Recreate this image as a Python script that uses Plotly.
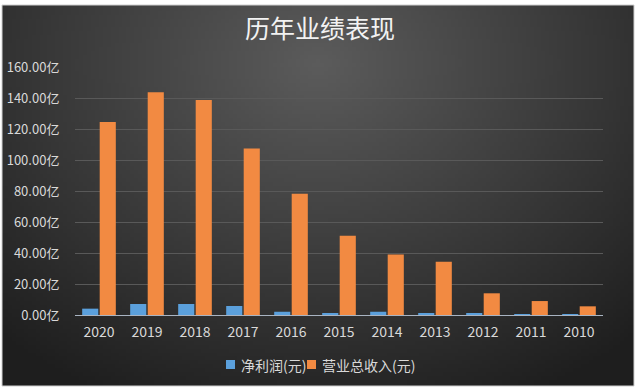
import base64, struct, zlib
import plotly.graph_objects as go

years = ["2020", "2019", "2018", "2017", "2016", "2015", "2014", "2013", "2012", "2011", "2010"]
net_profit = [4.1, 7.1, 7.1, 5.8, 2.1, 1.0, 2.1, 1.0, 0.9, 0.6, 0.3]
revenue = [124.5, 143.7, 138.7, 107.5, 78.3, 51.2, 39.1, 34.4, 14.0, 9.0, 5.6]
series_names = ["净利润(元)", "营业总收入(元)"]
series_colors = ["#5ba0dc", "#f28a42"]
title_text = "历年业绩表现"

# ---- background radial gradient image (style only) ----
W, H = 160, 96
rows = []
for j in range(H):
    row = bytearray([0])
    for i in range(W):
        dx = (i / (W - 1) - 0.5) / 0.75
        dy = (j / (H - 1) - 0.15) / 1.0
        d = min(1.0, (dx * dx + dy * dy) ** 0.5)
        v = int(92 - (92 - 30) * d)
        row += bytes([v, v, v])
    rows.append(bytes(row))
raw = b"".join(rows)

def chunk(t, data):
    c = struct.pack(">I", len(data)) + t + data
    return c + struct.pack(">I", zlib.crc32(t + data) & 0xffffffff)

png = b"\x89PNG\r\n\x1a\n" + chunk(b"IHDR", struct.pack(">IIBBBBB", W, H, 8, 2, 0, 0, 0)) \
    + chunk(b"IDAT", zlib.compress(raw, 9)) + chunk(b"IEND", b"")
bg_uri = "data:image/png;base64," + base64.b64encode(png).decode()

# plot area geometry in pixels
L, R, T, B = 75, 603, 67, 315
pw, ph = R - L, B - T
def px(x): return (x - L) / pw
def py(y): return (B - y) / ph

fig = go.Figure()
fig.add_trace(go.Bar(x=years, y=net_profit, name=series_names[0],
                     marker=dict(color=series_colors[0], line=dict(width=0))))
fig.add_trace(go.Bar(x=years, y=revenue, name=series_names[1],
                     marker=dict(color=series_colors[1], line=dict(width=0))))

# custom compact legend (squares + text)
legend_pos = [(226, 239), (307, 320)]
shapes = [dict(type="rect", xref="paper", yref="paper",
               x0=px(2), x1=px(634), y0=py(386), y1=py(5),
               line=dict(color="#cfcfcf", width=1), layer="below")]
annotations = []
for (sx, tx), name, col in zip(legend_pos, series_names, series_colors):
    shapes.append(dict(type="rect", xref="paper", yref="paper",
                       x0=px(sx), x1=px(sx + 9), y0=py(369), y1=py(360),
                       fillcolor=col, line=dict(width=0)))
    annotations.append(dict(text=name, xref="paper", yref="paper", x=px(tx), y=py(364.5),
                            xanchor="left", yanchor="middle", showarrow=False,
                            font=dict(size=14, color="#d9d9d9")))

fig.update_layout(
    width=640, height=390,
    margin=dict(l=L, r=640 - R, t=T, b=390 - B, pad=0, autoexpand=False),
    paper_bgcolor="white",
    plot_bgcolor="rgba(0,0,0,0)",
    barmode="group", bargap=0.27, bargroupgap=0.08,
    font=dict(family="Noto Sans CJK SC, Noto Sans, sans-serif", color="#d9d9d9", size=12),
    title=dict(text=title_text, x=0.5, xanchor="center", y=1 - 29 / 390, yanchor="middle",
               font=dict(size=25, color="#f2f2f2", family="Noto Sans CJK SC")),
    showlegend=False,
    images=[dict(source=bg_uri, xref="paper", yref="paper",
                 x=px(2), y=py(5), sizex=px(634) - px(2), sizey=py(5) - py(386),
                 xanchor="left", yanchor="top", sizing="stretch", layer="below")],
    shapes=shapes,
    annotations=annotations,
)
fig.update_xaxes(type="category", showgrid=False, showline=True, linecolor="#a9b4c2",
                 linewidth=1, ticks="", tickfont=dict(size=14, color="#d9d9d9"),
                 ticklabelstandoff=4)
fig.update_yaxes(range=[0, 160], dtick=20, tickformat=".2f", ticksuffix="亿",
                 showgrid=True, gridcolor="#595959", gridwidth=1, zeroline=False,
                 showline=False, tickfont=dict(size=13, color="#d9d9d9"),
                 ticks="outside", ticklen=10, tickcolor="rgba(0,0,0,0)",
                 ticklabelstandoff=2)

fig.write_html("out.html", post_script="document.body.style.margin='0';",
               config={"displayModeBar": False})
